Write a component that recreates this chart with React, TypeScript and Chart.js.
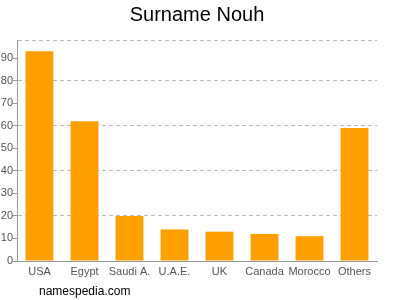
import React, { useEffect, useRef } from "react";
import { Chart, registerables } from "chart.js";

Chart.register(...registerables);

const categories = ["USA", "Egypt", "Saudi A.", "U.A.E.", "UK", "Canada", "Morocco", "Others"];
const values = [93, 62, 20, 14, 13, 12, 11, 59];
const titleText = "Surname Nouh";
const footerText = "namespedia.com";

const textPlugin = {
  id: "titleFooterText",
  afterDraw(chart: any) {
    const ctx = chart.ctx;
    ctx.save();
    ctx.fillStyle = "#000";
    ctx.textBaseline = "middle";
    ctx.textAlign = "center";
    ctx.font = "20px 'Liberation Sans', Arial, sans-serif";
    ctx.fillText(titleText, 197, 15);
    ctx.font = "12px 'Liberation Sans', Arial, sans-serif";
    ctx.textAlign = "left";
    ctx.fillText(footerText, 39, 292);
    ctx.restore();
  },
};

export default function App() {
  const ref = useRef<HTMLCanvasElement>(null);
  useEffect(() => {
    if (!ref.current) return;
    const chart = new Chart(ref.current, {
      type: "bar",
      data: {
        labels: categories,
        datasets: [
          {
            data: values,
            backgroundColor: "#FFA000",
            borderWidth: 0,
            categoryPercentage: 1,
            barPercentage: 0.62,
          },
        ],
      },
      options: {
        animation: false,
        responsive: false,
        layout: { padding: { left: 0, right: 23, top: 40, bottom: 19 } },
        plugins: {
          legend: { display: false },
          tooltip: { enabled: false },
          title: { display: false },
        },
        scales: {
          x: {
            grid: { display: false, drawTicks: false },
            border: { display: true, color: "#999" },
            ticks: {
              color: "#555",
              padding: 4,
              font: { family: "'Liberation Sans', Arial, sans-serif", size: 11 },
              maxRotation: 0,
              autoSkip: false,
            },
            afterFit(scale: any) {
              scale.height = 20;
            },
          },
          y: {
            min: 0,
            max: 98,
            border: { display: true, color: "#999", dash: [4, 3] } as any,
            grid: {
              drawTicks: true,
              tickLength: 4,
              color: (c: any) => {
                const v = c.tick ? c.tick.value : 0;
                if (v === 98 || (v > 0 && v % 20 === 0)) return "#bbb";
                return "rgba(0,0,0,0)";
              },
              tickColor: (c: any) => {
                const v = c.tick ? c.tick.value : 0;
                return v % 10 === 0 ? "#999" : "rgba(0,0,0,0)";
              },
            },
            ticks: {
              stepSize: 10,
              color: "#555",
              padding: 0,
              font: { family: "'Liberation Sans', Arial, sans-serif", size: 11 },
              callback: (v: any) => (Number(v) % 10 === 0 ? String(v) : ""),
            },
            afterFit(scale: any) {
              scale.width = 17;
            },
          },
        },
      },
      plugins: [textPlugin],
    });
    return () => chart.destroy();
  }, []);
  return (
    <div style={{ position: "fixed", left: 0, top: 0, width: 400, height: 300 }}>
      <canvas ref={ref} width={400} height={300} style={{ width: 400, height: 300 }} />
    </div>
  );
}
